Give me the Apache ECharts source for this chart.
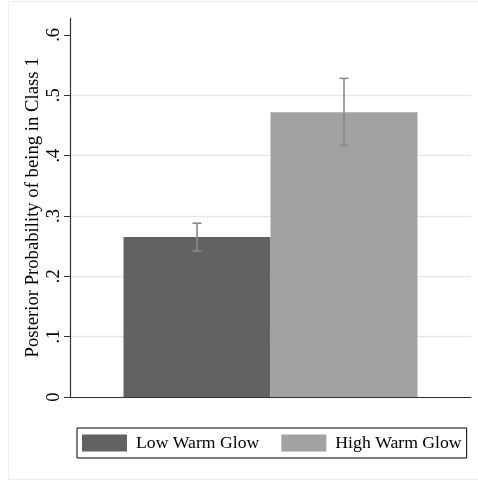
<!DOCTYPE html>
<html>
<head>
<meta charset="utf-8">
<script src="https://cdn.jsdelivr.net/npm/echarts@6/dist/echarts.min.js"></script>
<style>html,body{margin:0;padding:0;background:#fff}#c{width:478px;height:481px}</style>
</head>
<body>
<div id="c"></div>
<script>
const categories = ['Class 1'];
const seriesNames = ['Low Warm Glow', 'High Warm Glow'];
const means = [0.265, 0.472];
const lowerCI = [0.242, 0.417];
const upperCI = [0.288, 0.528];
const yTicks = [0, 0.1, 0.2, 0.3, 0.4, 0.5, 0.6];
const yTickLabels = ['0', '.1', '.2', '.3', '.4', '.5', '.6'];
const colors = ['#626262', '#a2a2a2'];

const BAR_W = 147;
const FONT = '"Liberation Serif", "Times New Roman", serif';

const chart = echarts.init(document.getElementById('c'), null, {renderer: 'canvas'});

const barSeries = seriesNames.map((name, i) => ({
  name: name,
  type: 'bar',
  data: [means[i]],
  barWidth: BAR_W,
  barGap: '0%',
  itemStyle: {color: colors[i]},
  silent: true,
  z: 2
}));

const errData = seriesNames.map((n, i) => [0, lowerCI[i], upperCI[i], i]);

const errSeries = {
  type: 'custom',
  name: 'ci',
  data: errData,
  encode: {x: 0, y: [1, 2]},
  z: 5,
  silent: true,
  renderItem: function (params, api) {
    const idx = api.value(3);
    const n = seriesNames.length;
    const off = (idx - (n - 1) / 2) * BAR_W;
    const lo = api.coord([api.value(0), api.value(1)]);
    const hi = api.coord([api.value(0), api.value(2)]);
    const x = lo[0] + off;
    const cap = 4.5;
    const style = {stroke: '#8a8a8a', lineWidth: 1.6};
    return {
      type: 'group',
      children: [
        {type: 'line', shape: {x1: x, y1: lo[1], x2: x, y2: hi[1]}, style: style},
        {type: 'line', shape: {x1: x - cap, y1: lo[1], x2: x + cap, y2: lo[1]}, style: style},
        {type: 'line', shape: {x1: x - cap, y1: hi[1], x2: x + cap, y2: hi[1]}, style: style}
      ]
    };
  }
};

chart.setOption({
  animation: false,
  backgroundColor: '#fff',
  graphic: [{
    type: 'rect',
    shape: {x: 8.5, y: 1.5, width: 480, height: 478},
    style: {fill: 'none', stroke: '#eeeeee', lineWidth: 1},
    silent: true,
    z: -10
  }],
  grid: {left: 70, right: 7, top: 18, bottom: 84, containLabel: false},
  legend: {
    data: seriesNames,
    left: 77,
    top: 428,
    orient: 'horizontal',
    itemWidth: 45,
    itemHeight: 17,
    itemGap: 22,
    icon: 'rect',
    borderColor: '#000',
    borderWidth: 1,
    padding: [6, 5, 6, 5],
    textStyle: {fontFamily: FONT, fontSize: 17.7, color: '#000', padding: [0, 0, 0, 4]},
    selectedMode: false
  },
  xAxis: {
    type: 'category',
    data: categories,
    axisLine: {show: true, lineStyle: {color: '#333', width: 1.2}},
    axisTick: {show: false},
    axisLabel: {show: false},
    splitLine: {show: false}
  },
  yAxis: {
    type: 'value',
    min: 0,
    max: 0.628,
    interval: 0.1,
    name: 'Posterior Probability of being in Class 1',
    nameLocation: 'middle',
    nameRotate: 90,
    nameGap: 27,
    nameMoveOverlap: false,
    nameTextStyle: {fontFamily: FONT, fontSize: 18.7, color: '#000'},
    axisLine: {show: true, lineStyle: {color: '#333', width: 1.2}},
    axisTick: {show: true, length: 6, customValues: yTicks, lineStyle: {color: '#333', width: 1}},
    axisLabel: {
      customValues: yTicks,
      rotate: 90,
      margin: 6,
      fontFamily: FONT,
      fontSize: 18.5,
      color: '#000',
      formatter: function (v) {
        const i = yTicks.findIndex(t => Math.abs(t - v) < 1e-6);
        return i >= 0 ? yTickLabels[i] : '';
      }
    },
    splitLine: {show: true, showMaxLine: false, lineStyle: {color: '#e6e6e6', width: 1.3}}
  },
  series: barSeries.concat([errSeries])
});
</script>
</body>
</html>
